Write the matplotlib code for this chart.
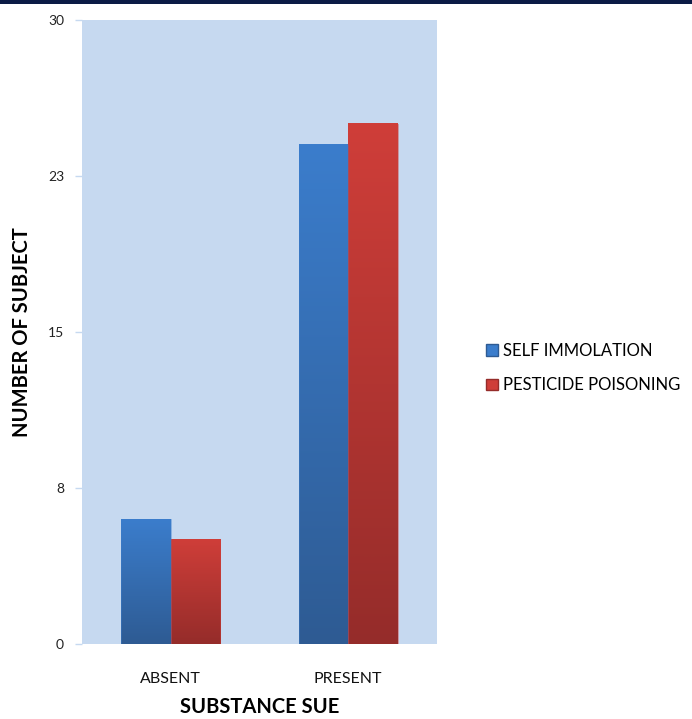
import numpy as np
import matplotlib.pyplot as plt
from matplotlib.patches import Patch, Rectangle
from matplotlib.colors import LinearSegmentedColormap

plt.rcParams['font.family'] = ['Lato', 'DejaVu Sans']

categories = ['ABSENT', 'PRESENT']
self_immolation = [6, 24]
pesticide_poisoning = [5, 25]
series_names = ['SELF IMMOLATION', 'PESTICIDE POISONING']
ytick_values = [0, 7.5, 15, 22.5, 30]
ytick_labels = ['0', '8', '15', '23', '30']

# gradient colours (top, bottom) for each series
blue_grad = ('#3b7dcc', '#2e5b93')
red_grad = ('#cf3e39', '#952c2a')

fig = plt.figure(figsize=(6.92, 7.19), dpi=100)
ax = fig.add_axes([0.1185, 0.1043, 0.513, 0.868])
ax.set_facecolor('#c6d9f0')

width = 0.28
x = np.arange(len(categories))


def gradient_bars(xs, heights, colors):
    cmap = LinearSegmentedColormap.from_list('g', [colors[1], colors[0]])
    grad = np.linspace(0, 1, 256).reshape(-1, 1)
    bars = ax.bar(xs, heights, width, color='none', edgecolor='none')
    for b in bars:
        x0, y0 = b.get_x(), b.get_y()
        w, h = b.get_width(), b.get_height()
        ax.imshow(grad, extent=[x0, x0 + w, y0, y0 + h], origin='lower',
                  aspect='auto', cmap=cmap, zorder=2)
        ax.add_patch(Rectangle((x0, y0), w, h, fill=False,
                               edgecolor=colors[0], lw=0.6, alpha=0.5, zorder=3))
    return bars


gradient_bars(x - width / 2, self_immolation, blue_grad)
gradient_bars(x + width / 2, pesticide_poisoning, red_grad)

ax.set_xlim(-0.5, 1.5)
ax.set_ylim(0, 30)
ax.set_yticks(ytick_values)
ax.set_yticklabels(ytick_labels)
ax.set_xticks(x)
ax.set_xticklabels(categories)
for s in ax.spines.values():
    s.set_visible(False)
ax.tick_params(axis='y', length=5, width=1, color='#c6d9f0', pad=8,
               labelsize=10, labelcolor='#222222')
ax.tick_params(axis='x', length=0, pad=20, labelsize=11.5, labelcolor='#111111')

ax.set_ylabel('NUMBER OF SUBJECT', fontsize=14.5, fontweight='bold', labelpad=11)
ax.set_xlabel('SUBSTANCE SUE', fontsize=14.5, fontweight='bold', labelpad=8)

handles = [Patch(facecolor=blue_grad[0], edgecolor=blue_grad[1]),
           Patch(facecolor=red_grad[0], edgecolor=red_grad[1])]
fig.legend(handles, series_names, loc='center left',
           bbox_to_anchor=(0.681, 0.488), frameon=False, fontsize=12,
           handlelength=0.7, handleheight=0.7, handletextpad=0.3,
           labelspacing=1.1)

# dark strip along the top edge
fig.patches.append(Rectangle((0, 0.995), 1, 0.005, transform=fig.transFigure,
                             facecolor='#0b1b45', edgecolor='none'))

fig.savefig('out.png', dpi=100)
